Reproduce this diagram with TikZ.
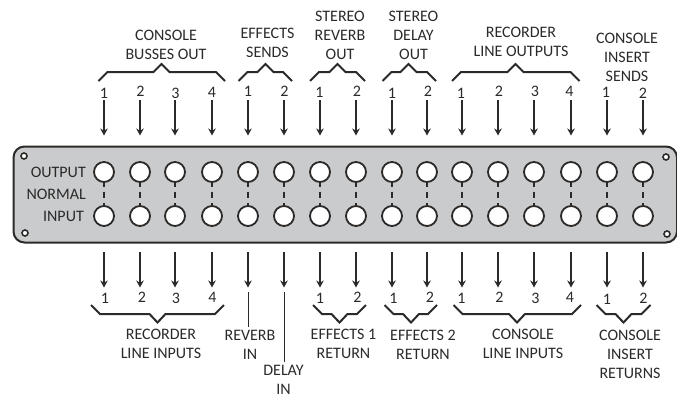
\documentclass[tikz,border=0pt]{standalone}
\usepackage{fontspec}
\setmainfont{Carlito}
\usepackage{tikz}
\usetikzlibrary{arrows.meta,positioning}
\definecolor{panelgray}{HTML}{C9CBCD}
\definecolor{inkgray}{HTML}{2B2A29}

\begin{document}
\begin{tikzpicture}[
  x=1pt, y=-1pt,
  font=\fontsize{16}{19}\selectfont,
  color=inkgray,
  panel/.style={draw, line width=2pt, fill=panelgray, rounded corners=11pt},
  jack/.style={circle, draw, line width=1.8pt, fill=white, minimum size=20pt, inner sep=0pt},
  screw/.style={circle, draw, line width=1.6pt, fill=white, minimum size=6pt, inner sep=0pt},
  normal/.style={line width=2pt, dash pattern=on 4pt off 5pt on 6pt off 5pt on 4pt off 0pt},
  arr/.style={-{Stealth[length=7pt,width=7.5pt]}, line width=2pt},
  brk/.style={line width=2pt, line join=miter},
  txt/.style={align=center, inner sep=0pt},
  num/.style={inner sep=0pt}
]
\useasboundingbox (0,0) rectangle (677,399);
\node[panel, minimum width=663.5pt, minimum height=96pt, anchor=north west] (front) at (12.5,145.5) {};
% jacks, normals and patch arrows
\foreach \i/\x in {1/104, 2/140, 3/175, 4/212, 5/248, 6/284, 7/320, 8/356,
  9/392, 10/427, 11/462, 12/498, 13/534, 14/571, 15/607, 16/643}{
  \node[jack] (out\i) at (\x,172) {};
  \node[jack] (in\i) at (\x,216) {};
  \draw[normal] (out\i) -- (in\i);
  \coordinate (outA\i) at (\x,100);
  \coordinate (outB\i) at (\x,135.5);
  \coordinate (inA\i) at (\x,252);
  \coordinate (inB\i) at (\x,287.5);
  \draw[arr] (outA\i) -- (outB\i);
  \draw[arr] (inA\i) -- (inB\i);
}
% numbers over and under the arrows
\foreach \x/\y/\t in {104/93/1, 140.5/91/2, 175.5/93/3, 212/92/4, 248/91/1, 284.5/91/2, 319.5/92.5/1,
  357/91/2, 392/93/1, 428/91/2, 461/93/1, 499/91/2, 535/91/3, 569.5/91/4, 606/92/1, 643/93/2}
  \node[num] at (\x,\y) {\t};
\foreach \x/\y/\t in {105/298/1, 142/297/2, 176/298/3, 212.5/297/4, 320/298/1, 357.5/297/2,
  393.5/298.5/1, 430/297/2, 461.5/298.5/1, 499.5/297/2, 535.5/298/3, 570/297/4, 607/299/1, 643.5/298.5/2}
  \node[num] at (\x,\y) {\t};
% screws
\node[screw] (s1) at (24,156) {};
\node[screw] (s2) at (666,157) {};
\node[screw] (s3) at (25,233) {};
\node[screw] (s4) at (667,234) {};
% brackets on top
\foreach \l/\m/\r in {98.5/161.5/225, 238.5/265.5/292, 310/337.5/365, 382.5/408.5/436, 452/515.5/579.5}
  \draw[brk] (\l,81) -- (\l+9,72) -- (\m-8,72) -- (\m,64) -- (\m+8,72) -- (\r-9,72) -- (\r,81);
% brackets below
\foreach \l/\m/\r in {91/157.5/224, 313/339.5/366, 384.5/411/437, 453.5/517/581, 596.5/623.5/650.5}
  \draw[brk] (\l,305) -- (\l+9,314) -- (\m-8,314) -- (\m,322.5) -- (\m+8,314) -- (\r-9,314) -- (\r,305);
% text
\node[txt, anchor=east] (outlbl) at (86,172) {OUTPUT};
\node[txt, anchor=east] (normlbl) at (86,194) {NORMAL};
\node[txt, anchor=east] (inlbl) at (84,216.5) {INPUT};
\node[txt] (busses) at (166,44.5) {CONSOLE\\BUSSES OUT};
\node[txt] (fxsends) at (267.5,43) {EFFECTS\\SENDS};
\node[txt] (revout) at (340,35) {STEREO\\REVERB\\OUT};
\node[txt] (delout) at (413.5,35) {STEREO\\DELAY\\OUT};
\node[txt] (recout) at (521,42) {RECORDER\\LINE OUTPUTS};
\node[txt] (inssend) at (627,57) {CONSOLE\\INSERT\\SENDS};
\node[txt] (recin) at (161,343.5) {RECORDER\\LINE INPUTS};
\node[txt] (revin) at (250,345) {REVERB\\IN};
\node[txt] (delin) at (283.5,380) {DELAY\\IN};
\node[txt] (fx1ret) at (343.5,344) {EFFECTS 1\\RETURN};
\node[txt] (fx2ret) at (423,344.5) {EFFECTS 2\\RETURN};
\node[txt] (conin) at (523,344) {CONSOLE\\LINE INPUTS};
\node[txt] (insret) at (630,354) {CONSOLE\\INSERT\\RETURNS};
% leader lines
\coordinate (revtop) at (248,292);
\coordinate (revend) at (248,327);
\coordinate (deltop) at (284,292);
\coordinate (delend) at (284,362);
\draw[line width=1pt] (revtop) -- (revend);
\draw[line width=1pt] (deltop) -- (delend);
\end{tikzpicture}
\end{document}
